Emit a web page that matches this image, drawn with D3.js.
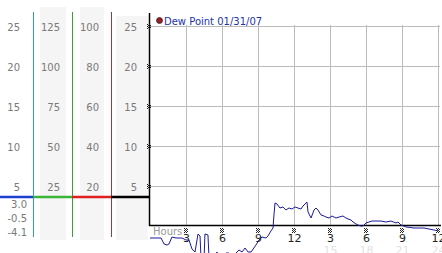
<!DOCTYPE html>
<html>
<head>
<meta charset="utf-8">
<script src="https://cdn.jsdelivr.net/npm/d3@7"></script>
<style>
  body { margin: 0; background: #fff; }
  svg { display: block; font-family: "DejaVu Sans", Verdana, sans-serif; }
</style>
</head>
<body>
<div id="chart"></div>
<script>
// dew point trace, hours since start vs degrees
var hours = [0, 0.92, 1.17, 1.42, 1.58, 1.83, 2.17, 2.67, 3.0, 3.25, 3.5, 3.75, 4.0, 4.17, 4.25, 4.5, 4.58, 4.83, 4.92,
  5.25, 5.58, 5.75, 6.08, 6.33, 6.58, 6.92, 7.17, 7.42, 7.67, 7.92, 8.17, 8.42, 8.83, 9.08, 9.33, 9.67, 9.83,
  10.08, 10.25, 10.33, 10.42, 10.58, 10.83, 11.08, 11.33, 11.58, 11.83, 12.08, 12.33, 12.58, 12.75, 12.92, 13.08,
  13.17, 13.42, 13.67, 13.83, 14.0, 14.25, 14.5, 14.67, 14.92, 15.17, 15.5, 15.75, 16.08, 16.33, 16.5, 16.75,
  16.92, 17.17, 17.33, 17.58, 17.75, 18.0, 18.25, 18.5, 18.83, 19.25, 19.67, 20.08, 20.5, 20.67, 20.92, 21.33,
  22.0, 22.83, 23.67, 24.0];
var dewPoint = [-1.5, -1.5, -2.25, -2.38, -2.25, -1.38, -1.5, -1.5, -1.75, -1.75, -2.88, -3.25, -1.0, -1.25, -4.0, -4.25, -1.0, -1.12, -4.0,
  -4.5, -3.25, -4.0, -4.5, -3.38, -3.38, -4.5, -3.38, -3.0, -3.25, -2.75, -3.25, -3.25, -2.38, -1.75, -1.38, -1.5, -1.25,
  -0.62, -0.25, 1.38, 2.88, 2.75, 2.25, 2.38, 2.0, 2.25, 2.12, 2.38, 2.25, 2.12, 2.5, 2.75, 3.0,
  1.75, 1.0, 2.0, 2.25, 2.0, 1.38, 1.25, 1.12, 1.0, 1.25, 1.0, 1.12, 1.25, 1.0, 0.88, 0.75,
  0.5, 0.25, 0.12, 0, 0, 0.38, 0.5, 0.62, 0.62, 0.62, 0.5, 0.62, 0.38, 0.5, 0.12, -0.12,
  -0.25, -0.25, -0.5, -0.62];

var yTicks = [25, 20, 15, 10, 5];
var col2Labels = ["125", "100", "75", "50", "25"];
var col3Labels = ["100", "80", "60", "40", "20"];
var xTicks = [3, 6, 9, 12, 15, 18, 21, 24];
var xTickLabels = ["3", "6", "9", "12", "3", "6", "9", "12"];
var xTickLabels2 = ["", "", "", "", "15", "18", "21", "24"];
var statLabels = ["3.0", "-0.5", "-4.1"];
var legendLabel = "Dew Point 01/31/07";

var width = 442, height = 253;
var x = d3.scaleLinear().domain([0, 24]).range([150, 438]);
var y = d3.scaleLinear().domain([0, 25]).range([226, 26]);

var svg = d3.select("#chart").append("svg")
    .attr("width", width)
    .attr("height", height);

// shaded label columns
var cols = [[40, 66, 7], [80, 104, 7], [116, 148, 16]];
cols.forEach(function(c) {
  svg.append("rect")
    .attr("x", c[0]).attr("y", c[2])
    .attr("width", c[1] - c[0]).attr("height", 240 - c[2])
    .attr("fill", "#f5f5f5");
});

// coloured unit dividers
var dividers = [[33, "#2a9fc4"], [72, "#3a9e3a"], [111, "#b03232"]];
dividers.forEach(function(d) {
  svg.append("line")
    .attr("x1", d[0] + 0.5).attr("x2", d[0] + 0.5)
    .attr("y1", 12).attr("y2", 237)
    .attr("stroke", d[1]).attr("stroke-width", 1);
});

// gridlines
svg.append("g").selectAll("line").data(yTicks).join("line")
  .attr("x1", 149).attr("x2", 440)
  .attr("y1", d => Math.round(y(d)) + 0.5).attr("y2", d => Math.round(y(d)) + 0.5)
  .attr("stroke", "#bbb");
svg.append("g").selectAll("line").data(xTicks).join("line")
  .attr("x1", d => Math.round(x(d)) + 0.5).attr("x2", d => Math.round(x(d)) + 0.5)
  .attr("y1", 25).attr("y2", 225)
  .attr("stroke", "#bbb");

// left columns of labels
function labelColumn(labels, xr) {
  svg.append("g").selectAll("text").data(labels).join("text")
    .attr("x", xr)
    .attr("y", (d, i) => y(yTicks[i]) + 1)
    .attr("text-anchor", "end")
    .attr("dominant-baseline", "central")
    .attr("font-size", 10)
    .attr("fill", "#7a7a7a")
    .text(d => d);
}
labelColumn(yTicks.map(String), 20);
labelColumn(col2Labels, 60);
labelColumn(col3Labels, 99);
labelColumn(yTicks.map(String), 137);

// stats under the baseline
svg.append("g").selectAll("text").data(statLabels).join("text")
  .attr("x", 27)
  .attr("y", (d, i) => 204 + i * 14)
  .attr("text-anchor", "end")
  .attr("dominant-baseline", "central")
  .attr("font-size", 10)
  .attr("fill", "#7a7a7a")
  .text(d => d);

// coloured baseline segments
var segs = [[0, 33, "#1c3fd0"], [33, 72, "#3ab53a"], [72, 111, "#e02020"], [111, 149, "#000"]];
segs.forEach(function(s) {
  svg.append("line")
    .attr("x1", s[0]).attr("x2", s[1])
    .attr("y1", 197).attr("y2", 197)
    .attr("stroke", s[2]).attr("stroke-width", 2.5);
});

// axes
svg.append("line")
  .attr("x1", 149.5).attr("x2", 149.5).attr("y1", 13).attr("y2", 226)
  .attr("stroke", "#000").attr("stroke-width", 1.5);
svg.append("line")
  .attr("x1", 149).attr("x2", 441).attr("y1", 225.5).attr("y2", 225.5)
  .attr("stroke", "#000").attr("stroke-width", 1.5);

// little tick markers
function marker(g, cx, cy) {
  [[-2, -2], [0, -2], [1, -1], [-1, -1], [-2, 0], [0, 0], [-1, 1], [1, 1], [-2, 2], [0, 2]].forEach(function(p) {
    g.append("rect").attr("x", cx + p[0]).attr("y", cy + p[1])
      .attr("width", 1).attr("height", 1).attr("fill", "#222");
  });
}
var mk = svg.append("g");
yTicks.forEach(d => marker(mk, 149, Math.round(y(d))));
xTicks.forEach(d => marker(mk, Math.round(x(d)), 230));

// x tick labels
svg.append("g").selectAll("text").data(xTicks).join("text")
  .attr("x", d => x(d) + 0.5)
  .attr("y", 242)
  .attr("text-anchor", "middle")
  .attr("font-size", 11)
  .attr("fill", "#222")
  .text((d, i) => xTickLabels[i]);
svg.append("g").selectAll("text").data(xTicks).join("text")
  .attr("x", d => x(d) + 0.5)
  .attr("y", 254)
  .attr("text-anchor", "middle")
  .attr("font-size", 11)
  .attr("fill", "#e2e2e2")
  .text((d, i) => xTickLabels2[i]);
svg.append("text")
  .attr("x", 153).attr("y", 235)
  .attr("font-size", 10)
  .attr("fill", "#9a9a9a")
  .text("Hours");

// dew point line
var line = d3.line()
  .x((d, i) => x(hours[i]))
  .y(d => y(d));
svg.append("path")
  .attr("fill", "none")
  .attr("stroke", "#1a1a9c")
  .attr("stroke-width", 1)
  .attr("d", line(dewPoint));

// legend
svg.append("circle")
  .attr("cx", 159.5).attr("cy", 20.5).attr("r", 3)
  .attr("fill", "#9a1c1c").attr("stroke", "#333").attr("stroke-width", 0.8);
svg.append("text")
  .attr("x", 164).attr("y", 24.5)
  .attr("font-size", 10)
  .attr("fill", "#2233aa")
  .text(legendLabel);
</script>
</body>
</html>
